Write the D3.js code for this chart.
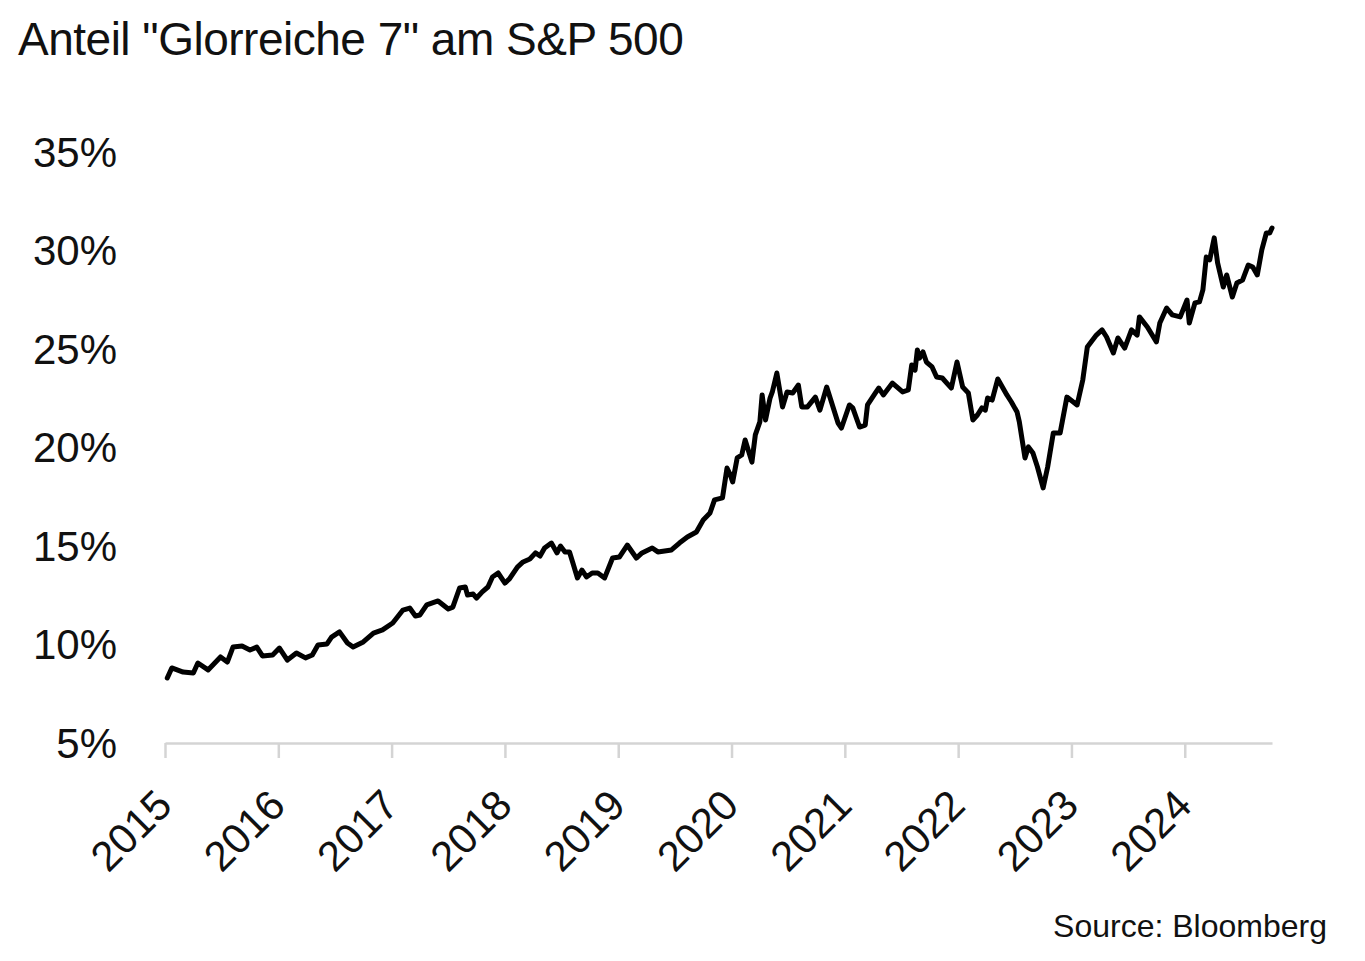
<!DOCTYPE html>
<html>
<head>
<meta charset="utf-8">
<script src="https://cdn.jsdelivr.net/npm/d3@7"></script>
<style>
  body { margin: 0; background: #fff; }
  text { font-family: "Liberation Sans", Arial, sans-serif; fill: #111; }
</style>
</head>
<body>
<div id="chart"></div>
<script>
// Share of the "Magnificent 7" in the S&P 500 (%)
const dates = [
  2015.02, 2015.06, 2015.16, 2015.25, 2015.29, 2015.38, 2015.49, 2015.55, 2015.60, 2015.68,
  2015.75, 2015.81, 2015.86, 2015.95, 2016.01, 2016.08, 2016.16, 2016.24, 2016.30, 2016.35,
  2016.43, 2016.47, 2016.54, 2016.61, 2016.66, 2016.75, 2016.84, 2016.92, 2017.01, 2017.10,
  2017.16, 2017.21, 2017.25, 2017.31, 2017.41, 2017.50, 2017.54, 2017.60, 2017.65, 2017.67,
  2017.72, 2017.75, 2017.80, 2017.85, 2017.89, 2017.94, 2018.00, 2018.04, 2018.11, 2018.16,
  2018.22, 2018.27, 2018.31, 2018.35, 2018.41, 2018.46, 2018.49, 2018.53, 2018.57, 2018.60,
  2018.64, 2018.68, 2018.72, 2018.77, 2018.82, 2018.88, 2018.95, 2019.01, 2019.08, 2019.16,
  2019.21, 2019.30, 2019.35, 2019.47, 2019.54, 2019.61, 2019.69, 2019.75, 2019.81, 2019.85,
  2019.92, 2019.96, 2019.99, 2020.01, 2020.05, 2020.09, 2020.12, 2020.18, 2020.21, 2020.25,
  2020.27, 2020.30, 2020.34, 2020.36, 2020.40, 2020.45, 2020.49, 2020.54, 2020.59, 2020.62,
  2020.67, 2020.74, 2020.78, 2020.84, 2020.94, 2020.97, 2021.04, 2021.07, 2021.13, 2021.18,
  2021.20, 2021.27, 2021.30, 2021.34, 2021.42, 2021.51, 2021.56, 2021.59, 2021.62, 2021.64,
  2021.66, 2021.69, 2021.72, 2021.77, 2021.81, 2021.86, 2021.90, 2021.94, 2021.99, 2022.04,
  2022.09, 2022.13, 2022.17, 2022.21, 2022.24, 2022.26, 2022.30, 2022.35, 2022.43, 2022.47,
  2022.52, 2022.54, 2022.59, 2022.62, 2022.66, 2022.70, 2022.75, 2022.79, 2022.84, 2022.90,
  2022.96, 2023.05, 2023.10, 2023.14, 2023.22, 2023.27, 2023.31, 2023.37, 2023.41, 2023.47,
  2023.53, 2023.58, 2023.60, 2023.67, 2023.75, 2023.78, 2023.84, 2023.89, 2023.96, 2024.02,
  2024.04, 2024.09, 2024.13, 2024.16, 2024.19, 2024.22, 2024.26, 2024.29, 2024.34, 2024.37,
  2024.42, 2024.46, 2024.51, 2024.56, 2024.60, 2024.64, 2024.68, 2024.72, 2024.75, 2024.77
];
const shares = [
  8.35, 8.86, 8.65, 8.60, 9.11, 8.76, 9.42, 9.16, 9.92, 9.97,
  9.77, 9.92, 9.47, 9.52, 9.87, 9.26, 9.62, 9.37, 9.52, 10.03,
  10.08, 10.43, 10.69, 10.13, 9.92, 10.18, 10.63, 10.79, 11.14, 11.80,
  11.90, 11.50, 11.55, 12.06, 12.26, 11.85, 11.95, 12.92, 12.97, 12.56,
  12.61, 12.41, 12.72, 12.97, 13.48, 13.68, 13.17, 13.38, 13.98, 14.24,
  14.39, 14.70, 14.54, 14.95, 15.20, 14.70, 15.05, 14.75, 14.75, 14.19,
  13.43, 13.83, 13.48, 13.68, 13.68, 13.43, 14.44, 14.49, 15.10, 14.44,
  14.70, 14.95, 14.75, 14.85, 15.20, 15.51, 15.76, 16.37, 16.73, 17.39,
  17.49, 19.01, 18.65, 18.30, 19.52, 19.67, 20.43, 19.31, 20.69, 21.35,
  22.72, 21.45, 22.56, 22.87, 23.83, 22.11, 22.87, 22.82, 23.22, 22.11,
  22.11, 22.61, 21.95, 23.12, 21.29, 21.04, 22.21, 22.06, 21.09, 21.19,
  22.21, 22.82, 23.07, 22.72, 23.32, 22.87, 22.97, 24.24, 23.98, 25.00,
  24.59, 24.90, 24.39, 24.14, 23.63, 23.58, 23.32, 23.07, 24.39, 23.12,
  22.82, 21.45, 21.70, 22.06, 21.95, 22.56, 22.46, 23.53, 22.72, 22.36,
  21.85, 21.35, 19.52, 20.08, 19.77, 19.06, 18.00, 19.06, 20.79, 20.79,
  22.61, 22.21, 23.48, 25.15, 25.76, 26.02, 25.66, 24.85, 25.61, 25.10,
  26.02, 25.76, 26.68, 26.17, 25.41, 26.37, 27.13, 26.78, 26.68, 27.54,
  26.37, 27.39, 27.44, 28.05, 29.72, 29.57, 30.69, 29.42, 28.20, 28.81,
  27.69, 28.40, 28.55, 29.31, 29.21, 28.81, 30.08, 30.94, 30.94, 31.19
];
const yearTicks = [2015, 2016, 2017, 2018, 2019, 2020, 2021, 2022, 2023, 2024];
const pctTicks = [5, 10, 15, 20, 25, 30, 35];

const title = 'Anteil "Glorreiche 7" am S&P 500';
const source = "Source: Bloomberg";

const W = 1365, H = 961;
const plotLeft = 165, plotRight = 1272, plotTop = 153, plotBottom = 744;

const svg = d3.select("#chart")
    .append("svg")
    .attr("width", W)
    .attr("height", H);

const x = d3.scaleLinear()
    .domain([2015, 2024.77])
    .range([plotLeft, plotRight]);

const y = d3.scaleLinear()
    .domain([5, 35])
    .range([plotBottom, plotTop]);

// title
svg.append("text")
    .attr("x", 18)
    .attr("y", 55)
    .style("font-size", "46px")
    .style("letter-spacing", "-0.5px")
    .text(title);

// y axis: labels only
const yAxis = svg.append("g")
    .attr("transform", `translate(${plotLeft},0)`)
    .call(d3.axisLeft(y).tickValues(pctTicks).tickFormat(d => d + "%").tickSize(0).tickPadding(48));
yAxis.select(".domain").remove();
yAxis.selectAll("text")
    .style("font-size", "42px")
    .style("font-family", "Liberation Sans, Arial, sans-serif")
    .attr("fill", "#111");

// x axis
const xAxis = svg.append("g")
    .attr("transform", `translate(0,${plotBottom - 1})`)
    .call(d3.axisBottom(x).tickValues(yearTicks).tickFormat(d3.format("d")).tickSize(15).tickSizeOuter(0));
xAxis.select(".domain").attr("stroke", "#d4d4d4").attr("stroke-width", 2.5);
xAxis.selectAll(".tick line").attr("stroke", "#d4d4d4").attr("stroke-width", 2.5);
xAxis.selectAll("text")
    .style("font-size", "42px")
    .style("font-family", "Liberation Sans, Arial, sans-serif")
    .attr("fill", "#111")
    .style("text-anchor", "end")
    .attr("dy", "0")
    .attr("transform", "translate(-4,52) rotate(-45)");

// the line
const line = d3.line()
    .x((d, i) => x(dates[i]))
    .y(d => y(d));

svg.append("path")
    .datum(shares)
    .attr("fill", "none")
    .attr("stroke", "#000")
    .attr("stroke-width", 5)
    .attr("stroke-linejoin", "round")
    .attr("stroke-linecap", "round")
    .attr("d", line);

// source
svg.append("text")
    .attr("x", 1327)
    .attr("y", 937)
    .attr("text-anchor", "end")
    .style("font-size", "32px")
    .text(source);
</script>
</body>
</html>
